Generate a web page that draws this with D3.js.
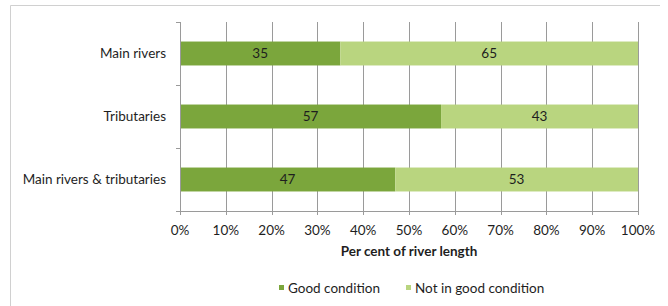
<!DOCTYPE html>
<meta charset="utf-8">
<style>
body{margin:0;background:#fff;}
text{font-family:Lato,"Open Sans",sans-serif;fill:#1e1e1e;}
.grid line{stroke:#9a9a9a;stroke-width:1;}
</style>
<svg width="668" height="306"></svg>
<script src="https://cdn.jsdelivr.net/npm/d3@7"></script>
<script>

var categories = ["Main rivers", "Tributaries", "Main rivers & tributaries"];
var seriesNames = ["Good condition", "Not in good condition"];
var good = [35, 57, 47];
var notGood = [65, 43, 53];
var tickValues = [0, 10, 20, 30, 40, 50, 60, 70, 80, 90, 100];
var colors = ["#7ba63c", "#b9d57f"];

var svg = d3.select("svg");
var fs = "13.5px";

// outer frame (only top and left visible)
svg.append("path")
    .attr("d", "M10.5,310 L10.5,5.5 L660,5.5")
    .attr("fill", "none")
    .attr("stroke", "#d0d0d0");

var x = d3.scaleLinear().domain([0, 100]).range([180, 638]);
var y = d3.scaleBand().domain(categories).range([22, 211]).paddingInner(0.62).paddingOuter(0.31);

// gridlines
svg.append("g").attr("class", "grid")
    .selectAll("line")
    .data(tickValues)
    .enter().append("line")
    .attr("x1", function(d) { return Math.round(x(d)) + 0.5; })
    .attr("x2", function(d) { return Math.round(x(d)) + 0.5; })
    .attr("y1", 22)
    .attr("y2", 215);

var rows = categories.map(function(c, i) {
  return {cat: c, vals: [good[i], notGood[i]]};
});

var row = svg.selectAll(".row")
    .data(rows)
    .enter().append("g")
    .attr("class", "row");

row.each(function(d) {
  var g = d3.select(this), start = 0;
  d.vals.forEach(function(v, k) {
    g.append("rect")
        .attr("x", x(start))
        .attr("y", y(d.cat))
        .attr("width", x(start + v) - x(start))
        .attr("height", y.bandwidth())
        .attr("fill", colors[k]);
    g.append("text")
        .attr("x", x(start + v / 2))
        .attr("y", y(d.cat) + y.bandwidth() / 2)
        .attr("dy", "0.35em")
        .attr("text-anchor", "middle")
        .style("font-size", fs)
        .text(v);
    start += v;
  });
});

// y axis line, x axis line and category tick marks
svg.append("line")
    .attr("x1", 180.5).attr("x2", 180.5)
    .attr("y1", 22).attr("y2", 211)
    .attr("stroke", "#9a9a9a");
svg.append("line")
    .attr("x1", 180).attr("x2", 638)
    .attr("y1", 211.5).attr("y2", 211.5)
    .attr("stroke", "#9a9a9a");

[0, 1, 2, 3].forEach(function(i) {
  var yy = Math.round(22 + i * (211 - 22) / 3) + 0.5;
  svg.append("line")
      .attr("x1", 176).attr("x2", 180)
      .attr("y1", yy).attr("y2", yy)
      .attr("stroke", "#9a9a9a");
});

// category labels
svg.selectAll(".cat")
    .data(categories)
    .enter().append("text")
    .attr("class", "cat")
    .attr("x", 166)
    .attr("y", function(d) { return y(d) + y.bandwidth() / 2; })
    .attr("dy", "0.35em")
    .attr("text-anchor", "end")
    .style("font-size", fs)
    .text(function(d) { return d; });

// x tick labels
svg.selectAll(".xt")
    .data(tickValues)
    .enter().append("text")
    .attr("x", function(d) { return x(d); })
    .attr("y", 230)
    .attr("dy", "0.35em")
    .attr("text-anchor", "middle")
    .style("font-size", fs)
    .text(function(d) { return d + "%"; });

svg.append("text")
    .attr("x", x(50))
    .attr("y", 251)
    .attr("dy", "0.35em")
    .attr("text-anchor", "middle")
    .style("font-size", fs)
    .style("font-weight", "bold")
    .text("Per cent of river length");

// legend
var legendX = [279, 406];
seriesNames.forEach(function(s, k) {
  svg.append("rect")
      .attr("x", legendX[k]).attr("y", 285)
      .attr("width", 5).attr("height", 5)
      .attr("fill", colors[k]);
  svg.append("text")
      .attr("x", legendX[k] + 9)
      .attr("y", 288)
      .attr("dy", "0.35em")
      .style("font-size", fs)
      .text(s);
});

</script>
